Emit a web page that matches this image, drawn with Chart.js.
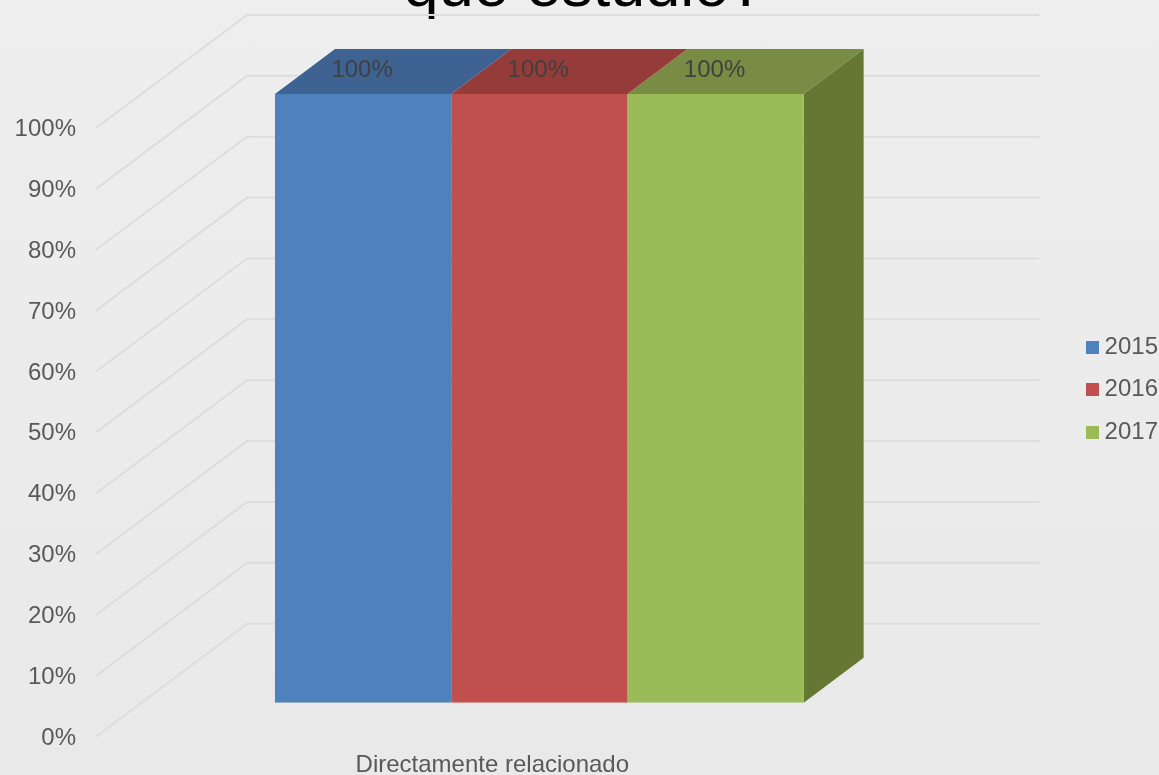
<!DOCTYPE html>
<html>
<head>
<meta charset="utf-8">
<style>
  html, body { margin: 0; padding: 0; background: linear-gradient(#eeeeee, #e9e9e9); }
  canvas { display: block; }
</style>
<script src="https://cdn.jsdelivr.net/npm/chart.js@4/dist/chart.umd.min.js"></script>
</head>
<body>
<canvas id="chart" width="1159" height="775"></canvas>
<script>
var titleText = 'que estudio?';
var categories = ['Directamente relacionado'];
var years = ['2015', '2016', '2017'];
var values2015 = [100];
var values2016 = [100];
var values2017 = [100];
var tickStep = 10;

var frontColors = ['#4f81bd', '#c0504d', '#9bbb59'];
var topColors = ['#3e6291', '#953c3a', '#788c43'];
var sideColor = '#657732';
var fontName = '"Liberation Sans", Arial, sans-serif';

// how far the back wall and the bars are pushed to fake the 3d look
var wall = { dx: 151, dy: 113 };
var barShift = { dx: 47, dy: 34 };
var barDepth = { dx: 60, dy: 45 };

// legend marker as an image so it can sit close to its text
function swatch(color) {
  var c = document.createElement('canvas');
  c.width = 13;
  c.height = 13;
  var g = c.getContext('2d');
  g.fillStyle = color;
  g.fillRect(0, 0, 13, 13);
  return c;
}

function fillShape(ctx, color, pts) {
  ctx.fillStyle = color;
  ctx.beginPath();
  ctx.moveTo(pts[0][0], pts[0][1]);
  for (var i = 1; i < pts.length; i++) {
    ctx.lineTo(pts[i][0], pts[i][1]);
  }
  ctx.closePath();
  ctx.fill();
}

var wallGrid = {
  id: 'wallGrid',
  beforeDatasetsDraw: function(chart) {
    var ctx = chart.ctx;
    var y = chart.scales.y;
    var area = chart.chartArea;
    ctx.save();
    ctx.strokeStyle = '#dddddd';
    ctx.lineWidth = 2;
    y.ticks.forEach(function(t) {
      var py = y.getPixelForValue(t.value);
      ctx.beginPath();
      ctx.moveTo(area.left, py);
      ctx.lineTo(area.left + wall.dx, py - wall.dy);
      ctx.lineTo(area.right + wall.dx, py - wall.dy);
      ctx.stroke();
    });
    ctx.restore();
  }
};

var box3d = {
  id: 'box3d',
  beforeDatasetDraw: function(chart, args) {
    var ctx = chart.ctx;
    var i = args.index;
    var bar = args.meta.data[0];
    var left = bar.x - bar.width / 2 + barShift.dx;
    var right = bar.x + bar.width / 2 + barShift.dx;
    var top = bar.y - barShift.dy;
    var bottom = bar.base - barShift.dy;
    // only the last bar shows its side, the others touch their neighbour
    if (i === chart.data.datasets.length - 1) {
      fillShape(ctx, sideColor, [
        [right, top], [right + barDepth.dx, top - barDepth.dy],
        [right + barDepth.dx, bottom - barDepth.dy], [right, bottom]
      ]);
    }
    fillShape(ctx, topColors[i], [
      [left, top], [left + barDepth.dx, top - barDepth.dy],
      [right + barDepth.dx, top - barDepth.dy], [right, top]
    ]);
    ctx.save();
    ctx.translate(barShift.dx, -barShift.dy);
  },
  afterDatasetDraw: function(chart) {
    chart.ctx.restore();
  },
  afterDatasetsDraw: function(chart) {
    var ctx = chart.ctx;
    ctx.save();
    ctx.fillStyle = '#404040';
    ctx.font = '24px ' + fontName;
    ctx.textAlign = 'center';
    ctx.textBaseline = 'middle';
    chart.data.datasets.forEach(function(ds, i) {
      var bar = chart.getDatasetMeta(i).data[0];
      ctx.fillText(ds.data[0] + '%', bar.x + barShift.dx - 1, bar.y - barShift.dy - 24);
    });
    ctx.restore();
  }
};

new Chart(document.getElementById('chart'), {
  type: 'bar',
  data: {
    labels: categories,
    datasets: [
      { label: years[0], data: values2015, backgroundColor: frontColors[0], pointStyle: swatch(frontColors[0]) },
      { label: years[1], data: values2016, backgroundColor: frontColors[1], pointStyle: swatch(frontColors[1]) },
      { label: years[2], data: values2017, backgroundColor: frontColors[2], pointStyle: swatch(frontColors[2]) }
    ]
  },
  options: {
    responsive: false,
    animation: false,
    layout: { padding: { right: -9, bottom: -4 } },
    categoryPercentage: 0.667,
    barPercentage: 1,
    plugins: {
      tooltip: { enabled: false },
      title: {
        display: true,
        text: titleText,
        color: '#000000',
        font: { family: fontName, size: 63, weight: 'normal', lineHeight: 1 },
        // pushed up so only the bottom of the line shows, the rest keeps the plot down
        padding: { top: -43, bottom: 108 }
      },
      legend: {
        position: 'right',
        labels: {
          color: '#595959',
          font: { family: fontName, size: 24 },
          usePointStyle: true,
          pointStyleWidth: 1,
          boxHeight: 13,
          padding: 18.5
        }
      }
    },
    scales: {
      x: {
        grid: { display: false },
        border: { display: false },
        afterFit: function(s) { s.height = 42.3; },
        ticks: {
          color: '#595959',
          font: { family: fontName, size: 24 },
          padding: 6
        }
      },
      y: {
        min: 0,
        max: 100,
        grid: { display: false },
        border: { display: false },
        afterFit: function(s) { s.width = 96; },
        ticks: {
          stepSize: tickStep,
          color: '#595959',
          font: { family: fontName, size: 24 },
          padding: 12,
          labelOffset: 1.5,
          callback: function(v) { return v + '%'; }
        }
      },
      // empty axis, only holds the gap between plot and legend
      gap: {
        position: 'right',
        grid: { display: false },
        border: { display: false },
        ticks: { display: false },
        afterFit: function(s) { s.width = 184.5; }
      }
    }
  },
  plugins: [wallGrid, box3d]
});
</script>
</body>
</html>
